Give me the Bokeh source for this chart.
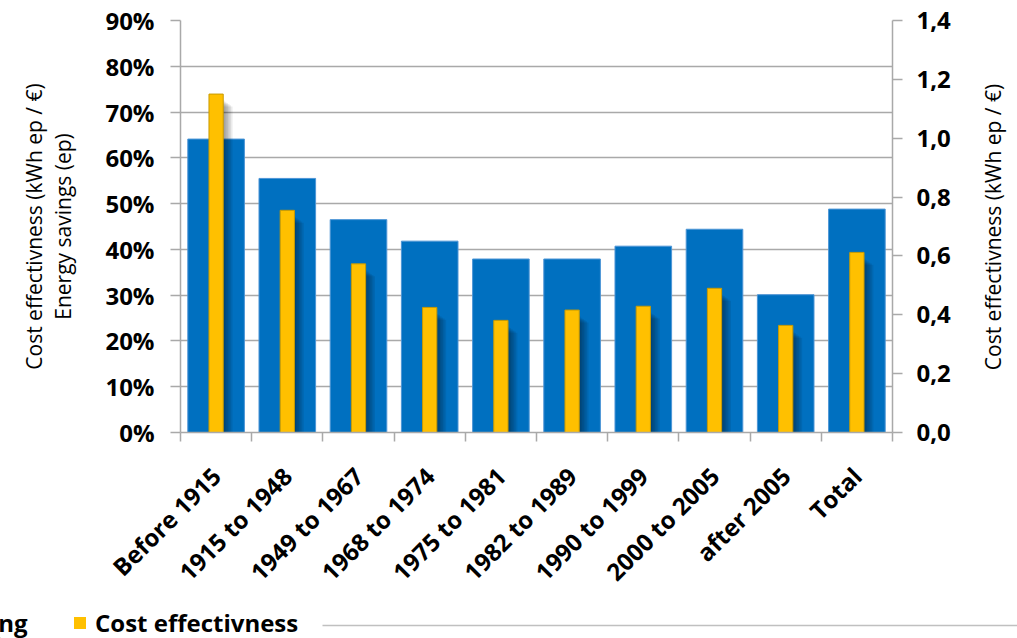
import math
from bokeh.plotting import figure
from bokeh.layouts import column, row
from bokeh.core.properties import value
from bokeh.models import (Range1d, LinearAxis, FixedTicker, Legend, LegendItem)
from bokeh.embed import file_html
from bokeh.resources import INLINE

# Construction periods
categories = ["Before 1915", "1915 to 1948", "1949 to 1967", "1968 to 1974",
              "1975 to 1981", "1982 to 1989", "1990 to 1999", "2000 to 2005",
              "after 2005", "Total"]

# Energy savings (% of primary energy), left axis
energy_savings = [64.1, 55.5, 46.5, 41.8, 37.9, 37.9, 40.7, 44.4, 30.1, 48.8]

# Cost effectiveness (kWh ep / EUR), right axis
cost_effectiveness = [1.15, 0.755, 0.573, 0.425, 0.381, 0.416, 0.429, 0.49, 0.364, 0.612]

left_ticks = [0, 10, 20, 30, 40, 50, 60, 70, 80, 90]
left_labels = ["0%", "10%", "20%", "30%", "40%", "50%", "60%", "70%", "80%", "90%"]
right_ticks = [0.0, 0.2, 0.4, 0.6, 0.8, 1.0, 1.2, 1.4]
right_labels = ["0,0", "0,2", "0,4", "0,6", "0,8", "1,0", "1,2", "1,4"]

series_names = ["Energy saving", "Cost effectivness"]
left_title = "Cost effectivness (kWh ep / €)\nEnergy savings (ep)"
right_title = "Cost effectivness (kWh ep / €)"

FONT = "Open Sans"
BLUE = "#0070C0"
YELLOW = "#FFC000"
GRID = "#a9a9a9"
INK = "black"
W = 1017          # total page width
WT = 50           # strip holding the right-hand axis title
H = 602           # height of the chart row
TOP, BOTTOM = 20, 169

n = len(categories)
centers = [i + 0.5 for i in range(n)]
edges = [float(i) for i in range(n + 1)]

p = figure(width=W - WT, height=H, output_backend="svg", toolbar_location=None,
           x_range=Range1d(0, n), y_range=Range1d(0, 90),
           min_border_left=180, min_border_right=75,
           min_border_top=TOP, min_border_bottom=BOTTOM)
p.extra_y_ranges = {"ce": Range1d(0, 1.4)}
p.outline_line_color = None
p.background_fill_color = "white"
p.border_fill_color = "white"

# Energy savings bars
p.vbar(x=centers, top=energy_savings, width=0.795, bottom=0,
       fill_color=BLUE, line_color="#4d95d6", line_width=1)

# Soft drop shadow to the right of each cost-effectiveness bar
half = 0.1
for k in range(1, 7):
    lefts = [c + half - 0.02 for c in centers]
    rights = [c + half + 0.022 * k for c in centers]
    tops = [v - 0.018 - 0.004 * k for v in cost_effectiveness]
    p.quad(left=lefts, right=rights, top=tops, bottom=0, y_range_name="ce",
           fill_color="black", fill_alpha=0.075, line_color=None)

# Cost effectiveness bars
p.vbar(x=centers, top=cost_effectiveness, width=2 * half, bottom=0,
       y_range_name="ce", fill_color=YELLOW, line_color="#c99a00", line_width=1)


def style_axis(a):
    a.major_label_text_font = FONT
    a.major_label_text_font_style = "bold"
    a.major_label_text_color = INK
    a.axis_label_text_font = FONT
    a.axis_label_text_font_style = "normal"
    a.axis_label_text_color = INK
    a.axis_line_color = GRID
    a.axis_line_width = 1.5
    a.major_tick_line_color = GRID
    a.major_tick_line_width = 1.5
    a.major_tick_in = 0
    a.minor_tick_line_color = None


# Left axis
ax = p.yaxis[0]
style_axis(ax)
ax.ticker = FixedTicker(ticks=left_ticks)
ax.major_label_overrides = dict(zip(left_ticks, left_labels))
ax.axis_label = left_title
ax.axis_label_text_font_size = "21px"
ax.axis_label_text_line_height = 1.05
ax.axis_label_standoff = 25
ax.major_label_text_font_size = "24px"
ax.major_label_standoff = 16
ax.major_tick_out = 10

# Right axis (its title is drawn in the strip beside the chart)
rax = LinearAxis(y_range_name="ce", ticker=FixedTicker(ticks=right_ticks))
style_axis(rax)
rax.major_label_overrides = dict(zip(right_ticks, right_labels))
rax.major_label_text_font_size = "24px"
rax.major_label_standoff = 14
rax.major_tick_out = 10
p.add_layout(rax, "right")

# Category axis: labels at bar centres, tick marks between categories
bx = p.xaxis[0]
style_axis(bx)
bx.ticker = FixedTicker(ticks=centers, minor_ticks=edges)
bx.major_label_overrides = dict(zip(centers, categories))
bx.major_label_orientation = math.pi / 4
bx.major_label_text_font_size = "24px"
bx.major_label_standoff = 30
bx.major_tick_line_color = None
bx.minor_tick_line_color = GRID
bx.minor_tick_line_width = 1.5
bx.minor_tick_out = 9
bx.minor_tick_in = 0

p.xgrid.grid_line_color = None
p.ygrid.ticker = FixedTicker(ticks=left_ticks)
p.ygrid.grid_line_color = GRID
p.ygrid.grid_line_width = 1.5


def blank_strip(width, height):
    f = figure(width=width, height=height, output_backend="svg",
               toolbar_location=None,
               x_range=Range1d(0, width), y_range=Range1d(0, height),
               x_axis_location=None, y_axis_location=None,
               min_border_left=0, min_border_right=0,
               min_border_top=0, min_border_bottom=0)
    f.grid.grid_line_color = None
    f.outline_line_color = None
    f.background_fill_color = "white"
    f.border_fill_color = "white"
    return f


# Right-hand axis title, reading bottom to top, centred on the plot area
t = blank_strip(WT, H)
t.text(x=[WT / 2], y=[H - (TOP + (H - BOTTOM)) / 2], text=[right_title],
       angle=math.pi / 2, text_align="center", text_baseline="middle",
       text_font=value(FONT), text_font_size="21px", text_color=INK)

# Legend strip under the chart
H2 = 36
q = blank_strip(W, H2)

# swatch renderers kept outside the visible strip; only their legend glyphs show
swatch_blue = q.vbar(x=[-100], top=[1], width=1, fill_color=BLUE, line_color=None)
swatch_yellow = q.vbar(x=[-100], top=[1], width=1, fill_color=YELLOW, line_color=None)

for name, rend, loc in ((series_names[0], swatch_blue, (-160, -1)),
                        (series_names[1], swatch_yellow, (72, -1))):
    q.add_layout(Legend(items=[LegendItem(label=name, renderers=[rend])],
                        location=loc, orientation="horizontal",
                        glyph_width=15, glyph_height=15, label_standoff=8,
                        label_text_font=FONT, label_text_font_style="bold",
                        label_text_font_size="24px", label_text_color=INK,
                        padding=0, margin=0, border_line_color=None,
                        background_fill_alpha=0), "center")

# Thin rule to the right of the legend
q.segment(x0=[322], y0=[13], x1=[W], y1=[13], line_color="#c0c0c0", line_width=1.5)

for f in (p, t, q):
    if "frame_align" in f.properties():
        f.frame_align = False

layout = column(row(p, t, spacing=0), q, spacing=0)
open("out.html", "w").write(file_html(layout, INLINE))
